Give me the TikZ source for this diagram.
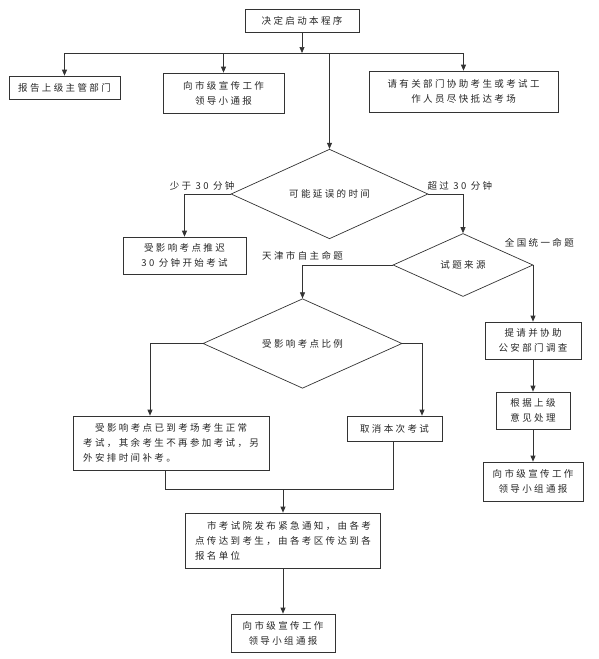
\documentclass[tikz,border=0pt]{standalone}
\usepackage{fontspec}
\newfontfamily\cjk[LetterSpace=25]{Noto Sans CJK SC}
\usetikzlibrary{arrows.meta,shapes.geometric}

\begin{document}
\begin{tikzpicture}[
  x=1pt, y=-1pt,
  every node/.style={font=\cjk\fontsize{9.5}{15}\selectfont, text=black!85},
  box/.style={draw=black!80, line width=0.7pt, align=center, inner sep=2pt},
  dia/.style={diamond, draw=black!80, line width=0.7pt, inner sep=0pt},
  note/.style={inner sep=1pt},
  conn/.style={line width=0.7pt, draw=black!80},
  arrow/.style={-{Triangle[length=6pt,width=5pt]}, line width=0.7pt, draw=black!80},
]

\useasboundingbox (0,0) rectangle (598,659);

\node[box, minimum width=114pt, minimum height=23pt] (start) at (302,20.5) {决定启动本程序};

% first row
\node[box, minimum width=111pt, minimum height=23pt] (report) at (64.5,87.5) {报告上级主管部门};
\node[box, minimum width=121pt, minimum height=40pt] (notify) at (223.5,93) {向市级宣传工作\\领导小通报};
\node[box, minimum width=189pt, minimum height=41pt] (assist) at (463.5,91.5) {请有关部门协助考生或考试工\\作人员尽快抵达考场};

\coordinate (bus) at (302,53);
\draw[arrow] (start.south) -- (bus);
\draw[conn] (report.north |- bus) -- (assist.north |- bus);
\draw[arrow] (report.north |- bus) -- (report.north);
\draw[arrow] (notify.north |- bus) -- (notify.north);
\draw[arrow] (assist.north |- bus) -- (assist.north);

% delay decision
\node[dia, minimum width=197pt, minimum height=74pt] (time) at (329.5,194) {可能延误的时间};
\draw[arrow] (time.north |- bus) -- (time.north);

\node[box, minimum width=123pt, minimum height=37pt] (delay) at (184.5,255.5) {受影响考点推迟\\30 分钟开始考试};
\draw[arrow] (time.west) -| (delay.north);
\node[note, anchor=south east] (less) at ([xshift=5pt,yshift=3pt]time.west) {少于 30 分钟};

\node[dia, minimum width=140pt, minimum height=63pt] (source) at (463,265) {试题来源};
\draw[arrow] (time.east) -| (source.north);
\node[note, anchor=south west] (more) at ([xshift=-2pt,yshift=3pt]time.east) {超过 30 分钟};

% national exam
\node[box, minimum width=96pt, minimum height=37pt] (probe) at (533,340.5) {提请并协助\\公安部门调查};
\node[box, minimum width=74pt, minimum height=37pt] (handle) at (533,410.5) {根据上级\\意见处理};
\node[box, minimum width=100pt, minimum height=39pt] (inform) at (533,481.5) {向市级宣传工作\\领导小组通报};
\draw[arrow] (source.east) -| (probe.north);
\node[note, anchor=south] (national) at ([xshift=6pt,yshift=17pt]source.east) {全国统一命题};
\draw[arrow] (probe) -- (handle);
\draw[arrow] (handle) -- (inform);

% local exam
\node[dia, minimum width=199pt, minimum height=75pt] (ratio) at (302.5,343.5) {受影响考点比例};
\draw[arrow] (source.west) -| (ratio.north);
\node[note, anchor=south, yshift=4pt] (local) at (source.west -| ratio.north) {天津市自主命题};

\node[box, align=left, minimum width=196pt, minimum height=54pt] (part) at (171,443) {\hspace*{12pt}受影响考点已到考场考生正常\\考试，其余考生不再参加考试，另\\外安排时间补考。};
\node[box, minimum width=95pt, minimum height=25pt] (cancel) at (394.5,428.5) {取消本次考试};
\draw[arrow] (ratio.west) -| ([xshift=-21pt]part.north);
\draw[arrow] (ratio.east) -| ([xshift=27.5pt]cancel.north);

% merge
\node[box, align=left, minimum width=195pt, minimum height=55pt] (notice) at (283,540.5) {\hspace*{12pt}市考试院发布紧急通知，由各考\\点传达到考生，由各考区传达到各\\报名单位};
\node[box, minimum width=104pt, minimum height=38pt] (final) at (283,633) {向市级宣传工作\\领导小组通报};

\coordinate (merge) at (283,489);
\draw[conn] ([xshift=-6pt]part.south) |- (merge);
\draw[conn] ([xshift=-1.5pt]cancel.south) |- (merge);
\draw[arrow] (merge) -- (notice.north);
\draw[arrow] (notice.south) -- (final.north);

\end{tikzpicture}
\end{document}
